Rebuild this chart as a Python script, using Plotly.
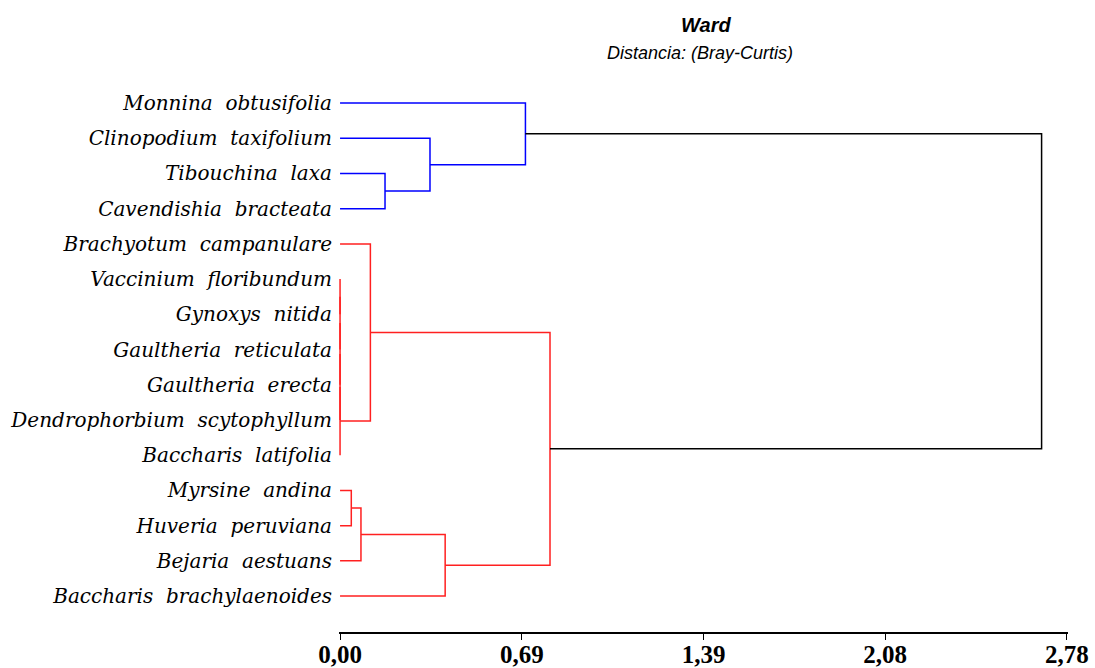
import plotly.graph_objects as go

# ---- data ----
leaves = [
    "Monnina obtusifolia", "Clinopodium taxifolium", "Tibouchina laxa",
    "Cavendishia bracteata", "Brachyotum campanulare", "Vaccinium floribundum",
    "Gynoxys nitida", "Gaultheria reticulata", "Gaultheria erecta",
    "Dendrophorbium scytophyllum", "Baccharis latifolia", "Myrsine andina",
    "Huveria peruviana", "Bejaria aestuans", "Baccharis brachylaenoides",
]
# merges: (left node, right node, height); new nodes numbered from len(leaves)
merge_left = [2, 1, 0, 5, 18, 19, 20, 21, 4, 11, 24, 25, 23, 17]
merge_right = [3, 15, 16, 6, 7, 8, 9, 10, 22, 12, 13, 14, 26, 27]
merge_height = [0.172, 0.344, 0.709, 0.0, 0.0, 0.0, 0.0, 0.0, 0.116,
                0.043, 0.080, 0.402, 0.803, 2.683]
merge_color = ["blue", "blue", "blue", "red", "red", "red", "red", "red", "red",
               "red", "red", "red", "red", "black"]

tick_vals = [0, 0.695, 1.39, 2.085, 2.78]
tick_text = ["0,00", "0,69", "1,39", "2,08", "2,78"]

# ---- build dendrogram segments ----
n = len(leaves)
node_y = {i: float(i) for i in range(n)}
node_h = {i: 0.0 for i in range(n)}
segs = {}
for k, (a, b, h, c) in enumerate(zip(merge_left, merge_right, merge_height, merge_color)):
    node = n + k
    node_y[node] = (node_y[a] + node_y[b]) / 2
    node_h[node] = h
    xs, ys = segs.setdefault(c, ([], []))
    xs += [node_h[a], h, h, node_h[b], None]
    ys += [node_y[a], node_y[a], node_y[b], node_y[b], None]

colors = {"blue": "#0000FF", "red": "#FF2020", "black": "#000000"}
fig = go.Figure()
for c, (xs, ys) in segs.items():
    fig.add_trace(go.Scatter(x=xs, y=ys, mode="lines",
                             line=dict(color=colors[c], width=1.5),
                             hoverinfo="skip", showlegend=False))

L, R, T, B = 339, 27, 80, 36
W, H = 1095, 668
nb = "\u00a0"
fig.update_layout(
    width=W, height=H,
    margin=dict(l=L, r=R, t=T, b=B),
    paper_bgcolor="white", plot_bgcolor="white",
    showlegend=False,
    xaxis=dict(range=[-0.004, 2.784], tickvals=tick_vals, ticktext=tick_text,
               automargin=False,
               showgrid=False, zeroline=False, showline=True, linecolor="black",
               linewidth=1.5, ticks="outside", ticklen=6, tickwidth=1.2,
               tickcolor="black", ticklabelstandoff=-7,
               tickfont=dict(family="Liberation Serif", size=25, color="black",
                             weight="bold")),
    yaxis=dict(range=[15.02, -0.653], tickvals=list(range(n)),
               ticktext=[name.replace(" ", nb * 2) for name in leaves],
               automargin=False,
               showgrid=False, zeroline=False, showline=False, ticks="",
               ticklabelstandoff=6,
               tickfont=dict(family="DejaVu Serif", size=20, color="black",
                             style="italic")),
)
pw = W - L - R
ph = H - T - B
fig.update_layout(annotations=[
    dict(text="<b><i>Ward</i></b>", x=(706.0 - L) / pw, y=(H - B - 25.0) / ph,
         xref="paper", yref="paper", showarrow=False,
         xanchor="center", yanchor="middle",
         font=dict(family="Liberation Sans", size=20, color="black")),
    dict(text="<i>Distancia: (Bray-Curtis)</i>", x=(700.0 - L) / pw, y=(H - B - 53.0) / ph,
         xref="paper", yref="paper", showarrow=False,
         xanchor="center", yanchor="middle",
         font=dict(family="Liberation Sans", size=18, color="black")),
])

fig.write_html("out.html")
